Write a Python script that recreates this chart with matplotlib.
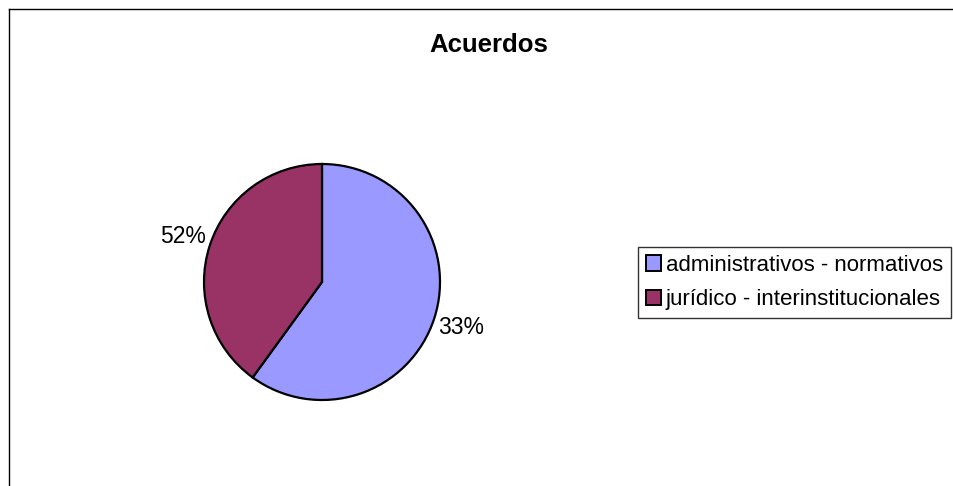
import matplotlib
matplotlib.use("Agg")
import matplotlib.pyplot as plt
from matplotlib.patches import Patch
from matplotlib.lines import Line2D

# ---------------------------------------------------------------------------
# Data
# ---------------------------------------------------------------------------
title = "Acuerdos"
categories = ["administrativos - normativos", "jurídico - interinstitucionales"]
slice_values = [60, 40]          # share of the circle as drawn
slice_labels = ["33%", "52%"]    # label text as printed on the chart
colors = ["#9999FF", "#993366"]

W, H, DPI = 954, 486, 100
plt.rcParams["font.family"] = ["Liberation Sans", "DejaVu Sans"]

fig = plt.figure(figsize=(W / DPI, H / DPI), dpi=DPI)

# pie: centre (322, 282) px, radius 118 px
cx, cy, r = 322, 282, 118
ax = fig.add_axes([(cx - r) / W, (H - cy - r) / H, 2 * r / W, 2 * r / H])
wedges, texts = ax.pie(slice_values, labels=slice_labels, colors=colors,
                       startangle=90, counterclock=False, labeldistance=1.24,
                       wedgeprops=dict(edgecolor="black", linewidth=1.6),
                       textprops=dict(fontsize=16.5))
for t in texts:
    t.set_ha("center")
    t.set_va("center")
ax.set_xlim(-1, 1)
ax.set_ylim(-1, 1)

fig.text(489 / W, 1 - 45 / H, title, ha="center", va="center",
         fontsize=18.5, fontweight="bold")

# legend
handles = [Patch(facecolor=c, edgecolor="black", linewidth=1.4) for c in colors]
leg = fig.legend(handles, categories, loc="upper left",
                 bbox_to_anchor=(638 / W, 1 - 247 / H),
                 frameon=True, fancybox=False, fontsize=16,
                 handlelength=0.7, handleheight=0.7, handletextpad=0.2,
                 borderpad=0.35, borderaxespad=0, labelspacing=0.6)
leg.get_frame().set_edgecolor("black")
leg.get_frame().set_linewidth(1.0)

# chart area border (left and top only visible)
fig.add_artist(Line2D([9.5 / W, 9.5 / W], [0, 1 - 9.5 / H], color="black", lw=1))
fig.add_artist(Line2D([9.5 / W, 1], [1 - 9.5 / H, 1 - 9.5 / H], color="black", lw=1))

fig.savefig("out.png", dpi=DPI)
